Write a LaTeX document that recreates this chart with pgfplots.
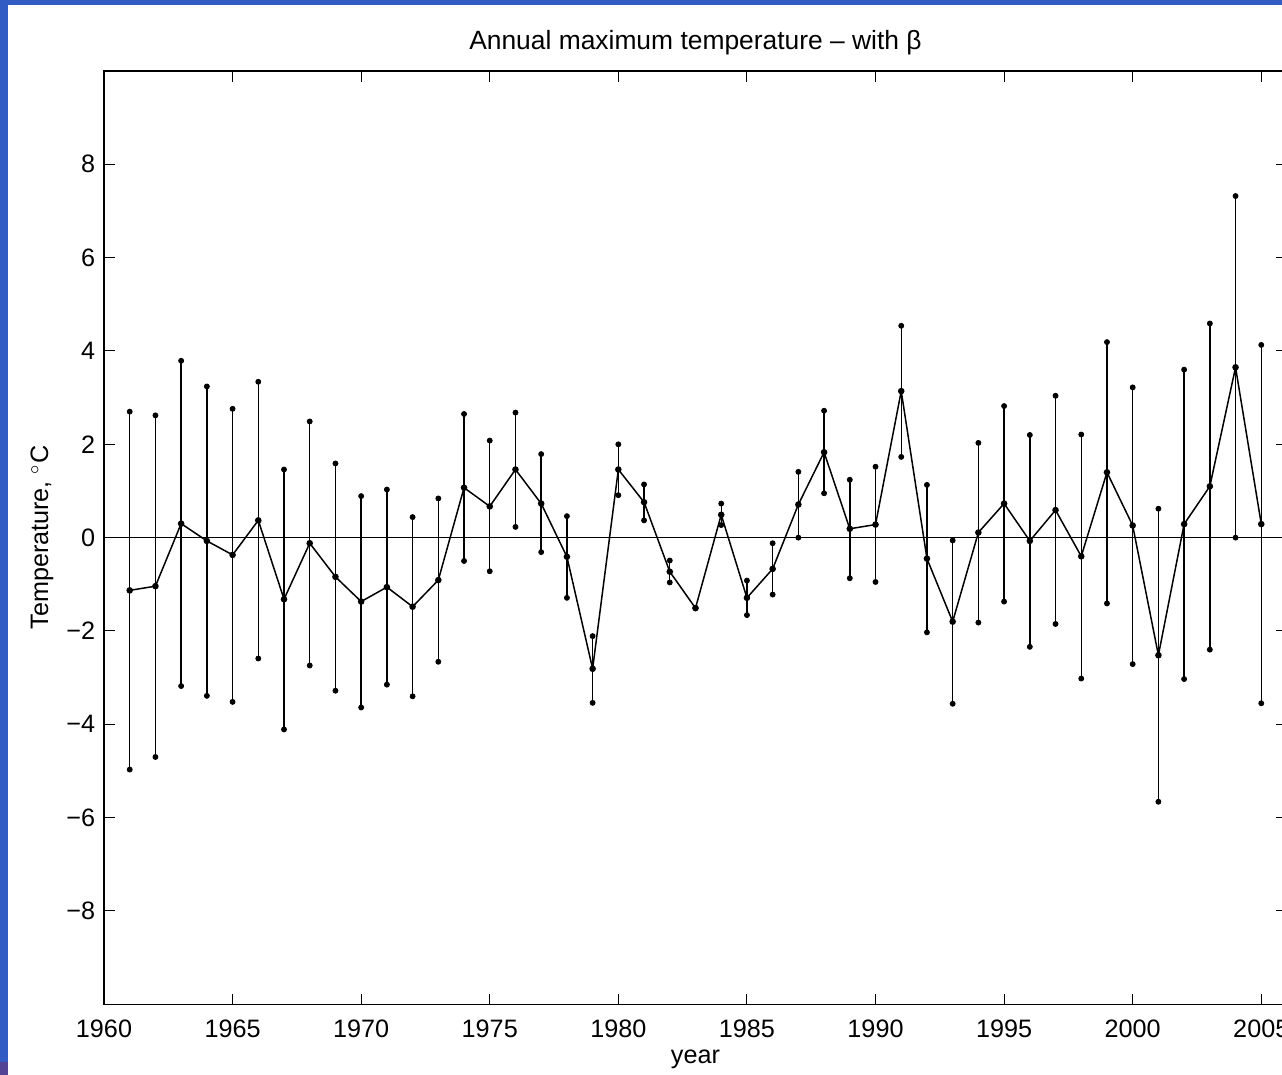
\documentclass[border=0pt]{standalone}
\usepackage{fontspec}
\setmainfont{Liberation Sans}
\usepackage{pgfplots}
\pgfplotsset{compat=1.18}
\usepackage{pgfplotstable}
\definecolor{framebg}{RGB}{48,92,196}
\definecolor{framepurple}{RGB}{84,68,150}
\pgfplotstableread{
year y top bot
1961 -1.13 2.70 -4.97
1962 -1.04 2.62 -4.70
1963 0.30 3.79 -3.18
1964 -0.07 3.24 -3.39
1965 -0.37 2.76 -3.52
1966 0.37 3.34 -2.59
1967 -1.32 1.46 -4.11
1968 -0.12 2.49 -2.74
1969 -0.84 1.59 -3.28
1970 -1.37 0.89 -3.64
1971 -1.06 1.03 -3.15
1972 -1.48 0.44 -3.40
1973 -0.91 0.84 -2.66
1974 1.07 2.65 -0.50
1975 0.67 2.08 -0.72
1976 1.46 2.68 0.23
1977 0.73 1.79 -0.31
1978 -0.41 0.46 -1.29
1979 -2.81 -2.11 -3.54
1980 1.46 2.00 0.91
1981 0.76 1.14 0.37
1982 -0.73 -0.49 -0.96
1983 -1.51 -1.51 -1.51
1984 0.49 0.73 0.27
1985 -1.29 -0.92 -1.66
1986 -0.67 -0.12 -1.22
1987 0.71 1.41 0.00
1988 1.83 2.72 0.95
1989 0.19 1.24 -0.87
1990 0.28 1.52 -0.95
1991 3.14 4.54 1.73
1992 -0.45 1.13 -2.03
1993 -1.80 -0.06 -3.56
1994 0.11 2.03 -1.82
1995 0.73 2.82 -1.37
1996 -0.07 2.20 -2.34
1997 0.59 3.04 -1.85
1998 -0.40 2.21 -3.02
1999 1.40 4.19 -1.41
2000 0.26 3.22 -2.71
2001 -2.52 0.62 -5.66
2002 0.29 3.60 -3.03
2003 1.10 4.59 -2.40
2004 3.65 7.32 0.00
2005 0.29 4.13 -3.55
}\datatab
\newcommand{\figfont}{\fontsize{12.6pt}{15pt}\selectfont}
\newcommand{\titlefont}{\fontsize{13.2pt}{16pt}\selectfont}
\begin{document}
\begin{tikzpicture}
\fill[framebg] (0,0) rectangle (641pt,537.5pt);
\fill[white] (4pt,0) rectangle (641pt,535pt);
\fill[framepurple] (0,0) rectangle (4pt,6.65pt);
\begin{axis}[
  at={(52pt,35.35pt)}, anchor=south west,
  scale only axis, width=591.5pt, height=466.65pt,
  xmin=1960, xmax=2006, ymin=-10, ymax=10,
  xtick={1960,1965,1970,1975,1980,1985,1990,1995,2000,2005},
  xticklabels={1960,1965,1970,1975,1980,1985,1990,1995,2000,2005},
  ytick={-8,-6,-4,-2,0,2,4,6,8},
  yticklabels={−8,−6,−4,−2,0,2,4,6,8},
  tick align=inside, major tick length=5.3pt,
  tick style={black, line width=0.5pt},
  axis line style={black, line width=0.75pt},
  xticklabel style={font=\figfont, anchor=north, inner sep=0pt, yshift=-7.4pt},
  yticklabel style={font=\figfont, anchor=east, inner sep=0pt, xshift=-4.2pt},
  every axis title shift=0pt,
  title={Annual maximum temperature – with β},
  title style={font=\titlefont, at={(axis description cs:0.5,1.0225)}, anchor=base, inner sep=0pt},
  xlabel={year},
  xlabel style={font=\figfont, at={(axis description cs:0.5,-0.0636)}, anchor=base, inner sep=0pt},
  ylabel={Temperature, $^\circ$C},
  ylabel style={font=\figfont, at={(axis description cs:-0.04734,0.5)}, anchor=base, inner sep=0pt},
  clip=false,
]
\addplot[black, line width=0.65pt, forget plot] coordinates {(1960,0) (2006,0)};
\addplot[black, line width=0.75pt, mark=*, mark size=1.25pt, mark options={solid, fill=black},
  error bars/.cd, y dir=both, y explicit, error mark=*,
  error mark options={black, fill=black, mark size=1.25pt},
  error bar style={black, line width=0.7pt}]
  table[x=year, y=y, y error plus expr=\thisrow{top}-\thisrow{y}, y error minus expr=\thisrow{y}-\thisrow{bot}] {\datatab};
\end{axis}
\pgfresetboundingbox
\useasboundingbox (0,0) rectangle (641pt,537.5pt);
\end{tikzpicture}
\end{document}
